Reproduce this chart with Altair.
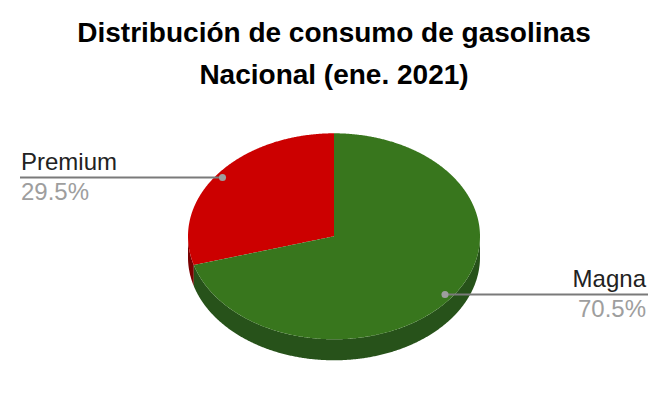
import math
import altair as alt
import pandas as pd

title_lines = ["Distribución de consumo de gasolinas", "Nacional (ene. 2021)"]
categories = ["Magna", "Premium"]
shares = [70.5, 29.5]
share_labels = ["70.5%", "29.5%"]

CX, CY, RX, RY, DEPTH = 334, 236.3, 146, 103, 21
split = 2 * math.pi * shares[1] / 100
ex = CX - RX * math.sin(split)
ey = CY - RY * math.cos(split)


def upper(x):
    return CY - RY * math.sqrt(max(0, 1 - ((x - CX) / RX) ** 2))


def lower(x):
    return CY + RY * math.sqrt(max(0, 1 - ((x - CX) / RX) ** 2))


def seam(x):
    return ey + (CY - ey) * (x - ex) / (CX - ex)


def sweep(a, b, n=260):
    th0 = math.acos(max(-1, min(1, (a - CX) / RX)))
    th1 = math.acos(max(-1, min(1, (b - CX) / RX)))
    return [CX + RX * math.cos(th0 + (th1 - th0) * i / n) for i in range(n + 1)]


L, R = CX - RX, CX + RX

rows = []
for x in sweep(L, ex, 40):
    rows.append(dict(part="side_premium", x=x, y=lower(x), y2=lower(x) + DEPTH))
for x in sweep(ex, R, 400):
    rows.append(dict(part="side_magna", x=x, y=lower(x), y2=lower(x) + DEPTH))
for x in sweep(L, CX):
    rows.append(dict(part="premium", x=x, y=upper(x), y2=lower(x) if x <= ex else seam(x)))
for x in sweep(ex, CX):
    rows.append(dict(part="magna", x=x, y=seam(x), y2=lower(x)))
for x in sweep(CX, R):
    rows.append(dict(part="magna", x=x, y=upper(x), y2=lower(x)))
df = pd.DataFrame(rows).sort_values(["part", "x"])

SX = alt.Scale(domain=[8, 658], range=[0, 650], nice=False, zero=False)
SY = alt.Scale(domain=[8, 404], range=[0, 396], nice=False, zero=False)
X = alt.X("x:Q", scale=SX, axis=None)
Y = alt.Y("y:Q", scale=SY, axis=None)

colors = dict(premium="#cc0000", magna="#38761d", side_premium="#7a0000", side_magna="#27521a")
layers = []
for part in ["side_premium", "side_magna", "premium", "magna"]:
    layers.append(
        alt.Chart(df[df.part == part])
        .mark_area(color=colors[part], opacity=1, interpolate="linear")
        .encode(x=X, y=Y, y2="y2:Q")
    )

leaders = pd.DataFrame(
    [
        dict(x=445, x1=648, y=294.5, name=categories[0], val=share_labels[0], tx=646, ty=280, vy=310),
        dict(x=20, x1=222.5, y=177.5, name=categories[1], val=share_labels[1], tx=21, ty=163, vy=193),
    ]
)
rule = alt.Chart(leaders).mark_rule(color="#7a7a7a", strokeWidth=2).encode(x=X, x2="x1:Q", y=Y)
dots = (
    alt.Chart(pd.DataFrame([dict(x=445, y=294.5), dict(x=222.5, y=177.5)]))
    .mark_circle(color="#9e9e9e", size=50, opacity=1)
    .encode(x=X, y=Y)
)


def txt(sub, col, ycol, color, align):
    return (
        alt.Chart(sub)
        .mark_text(font="Liberation Sans", fontSize=24, color=color, align=align, baseline="middle")
        .encode(
            x=alt.X("tx:Q", scale=SX, axis=None),
            y=alt.Y(f"{ycol}:Q", scale=SY, axis=None),
            text=f"{col}:N",
        )
    )


right, left = leaders.iloc[[0]], leaders.iloc[[1]]
texts = [
    txt(right, "name", "ty", "#222222", "right"),
    txt(right, "val", "vy", "#9e9e9e", "right"),
    txt(left, "name", "ty", "#222222", "left"),
    txt(left, "val", "vy", "#9e9e9e", "left"),
]

title_df = pd.DataFrame(dict(tx=[334, 334], ty=[34, 75.5], t=title_lines))
title = (
    alt.Chart(title_df)
    .mark_text(font="Liberation Sans", fontSize=28, fontWeight="bold", color="#000000", align="center", baseline="middle")
    .encode(
        x=alt.X("tx:Q", scale=SX, axis=None),
        y=alt.Y("ty:Q", scale=SY, axis=None),
        text="t:N",
    )
)

chart = (
    alt.layer(*layers, rule, dots, *texts, title)
    .properties(width=650, height=396, padding=0, autosize=alt.AutoSizeParams(type="none"))
    .configure_view(stroke=None)
)
chart.save("out.html", embed_options={"renderer": "svg", "actions": False})
